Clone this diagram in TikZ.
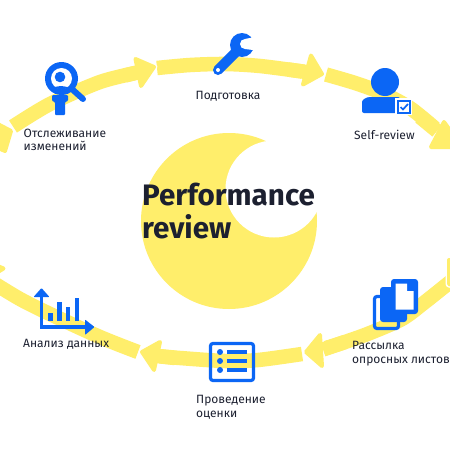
\documentclass[tikz,border=0pt]{standalone}
\usepackage{fontspec}
\setmainfont{Fira Sans}
\definecolor{ylw}{HTML}{FFEE6B}
\definecolor{blu}{HTML}{0B66F5}
\definecolor{ink}{HTML}{1C2030}
\tikzset{
  band/.style={draw=ylw,line width=14.5pt},
  headout/.style={draw=white,line width=7pt,line join=round},
  headin/.style={draw=ylw,fill=ylw,line width=4pt,line join=round},
  lab/.style={anchor=base west,inner sep=0pt,text=ink,font=\fontsize{12}{13}\selectfont},
  ttl/.style={anchor=base west,inner sep=0pt,text=ink,font=\fontsize{29.6}{30}\selectfont\bfseries},
  ico/.style={draw=blu,line width=3.2pt,rounded corners=2.5pt},
  bar/.style={draw=blu,line width=4.5pt},
}
\newcommand{\yhead}[1]{\draw[headout] #1; \draw[headin] #1;}
\begin{document}
\begin{tikzpicture}[x=1pt,y=-1pt]
\useasboundingbox (0,0) rectangle (450,450);
\clip (0,0) rectangle (450,450);
\fill[white] (0,0) rectangle (450,450);
% crescent
\fill[ylw] (229,221) circle[radius=88pt];
\fill[white] (274,189) circle[radius=48.5pt];
% bands
\draw[band] plot[smooth] coordinates {(13,126.5) (50,104) (100,82) (140,72)};
\draw[band] plot[smooth] coordinates {(157,68) (190,65) (225,64) (260,66) (306,72)};
\draw[band] plot[smooth] coordinates {(326,74.5) (355,83) (382,93) (410,108) (437,130)};
\draw[band] plot[smooth] coordinates {(455,278) (425,302) (402,319) (370,333) (345,342) (323,349)};
\draw[band] plot[smooth] coordinates {(302,354) (258,360) (225,361) (180,358) (158,356)};
\draw[band] plot[smooth] coordinates {(138,352) (100,337) (50,314) (20,299) (-8,282)};
% heads
\yhead{(154,67)--(135.5,59)--(141,86)--cycle}
\yhead{(322,74)--(311,55.5)--(303,84.5)--cycle}
\yhead{(462,147)--(444,122)--(431,147)--cycle}
\yhead{(306,352)--(320,335)--(322,366)--cycle}
\yhead{(142,352)--(160,342)--(154,370)--cycle}
\yhead{(11,131)--(5,151)--(-20,140)--(-10,120)--cycle}
\yhead{(449,284)--(449,260)--(475,260)--(475,290)--cycle}
\yhead{(3.5,268.5)--(-12,262)--(-12,278)--cycle}
% stubs joining band and head
\draw[band] (125,75.5)--(141,71.5);
\draw[band] (288,69.5)--(306,72);
\draw[band] (420,117)--(437,131);
\draw[band] (345,342)--(323,349.5);
\draw[band] (175,358)--(157,356);
% magnifier
\fill[blu] (61.5,78.5) circle[radius=16.5pt];
\fill[white] (61.5,78.5) circle[radius=10.5pt];
\begin{scope}
\clip (61.5,78.5) circle[radius=11pt];
\fill[blu] (61,95) ellipse[x radius=13pt,y radius=9pt];
\end{scope}
\fill[blu] (60,77) circle[radius=5.3pt];
\draw[blu,line width=6pt,line cap=round] (73,90)--(83,99);
\fill[blu,rounded corners=1pt] (52,95)--(68,95)--(68,101)--(65,102)--(65,115)--(55,115)--(55,102)--(52,101)--cycle;
% wrench
\fill[blu] (242,45) circle[radius=12pt];
\draw[blu,line width=10pt,line cap=round] (237,51)--(218,70);
\fill[white] (245,44) circle[radius=5pt];
\fill[white] (245,39)--(257,36.5)--(257,50.5)--(245,49)--cycle;
\fill[white] (218,70) circle[radius=2pt];
% person
\fill[blu] (385,82) circle[radius=14pt];
\fill[blu,rounded corners=2pt] (362,113)--(362,104) .. controls (362,100) and (366,97) .. (372,97)--(400,97)--(400,113)--cycle;
\fill[white] (395,98) rectangle (412,115);
\draw[blu,line width=1.7pt] (398,100.8) rectangle (409.8,112.8);
\draw[blu,line width=1.7pt] (400.5,107) -- (403,109.5) -- (408,104);
% documents
\draw[ico] (374.5,296.5) rectangle (398.5,328.5);
\fill[blu,rounded corners=3pt] (380,287) rectangle (407,322);
\fill[blu,rounded corners=3pt] (391,279) rectangle (418,314);
\fill[white] (395.5,283.5)--(407,283.5)--(407,291)--(413.5,291)--(413.5,309.5)--(395.5,309.5)--cycle;
% form
\draw[ico] (210.5,343.5) rectangle (253.5,380.5);
\foreach \yy in {352,361,370} {
  \fill[blu] (220,\yy) circle[radius=3pt];
  \draw[blu,line width=4pt] (227,\yy)--(247,\yy);
}
% chart
\draw[blu,line width=3.5pt] (41.5,295)--(41.5,327)--(88,327);
\fill[blu,rounded corners=0.8pt] (41.5,288)--(49.5,297)--(33.5,297)--cycle;
\fill[blu,rounded corners=0.8pt] (94.5,327)--(85,319.5)--(85,335)--cycle;
\draw[bar] (50.5,313)--(50.5,321);
\draw[bar] (59.5,302)--(59.5,321);
\draw[bar] (68,307)--(68,321);
\draw[bar] (77,298)--(77,321);
% texts
\node[ttl] (t1) at (142,205) {Performance};
\node[ttl] (t2) at (142,238) {review};
\node[lab] (l1a) at (23.5,137) {Отслеживание};
\node[lab] (l1b) at (23.5,150) {изменений};
\node[lab] (l2) at (195.5,99) {Подготовка};
\node[lab] (l3) at (354,139) {Self-review};
\node[lab] (l4) at (23,347) {Анализ данных};
\node[lab] (l5a) at (196,403) {Проведение};
\node[lab] (l5b) at (196,417) {оценки};
\node[lab] (l6a) at (352,349) {Рассылка};
\node[lab] (l6b) at (352,363) {опросных листов};
\end{tikzpicture}
\end{document}
